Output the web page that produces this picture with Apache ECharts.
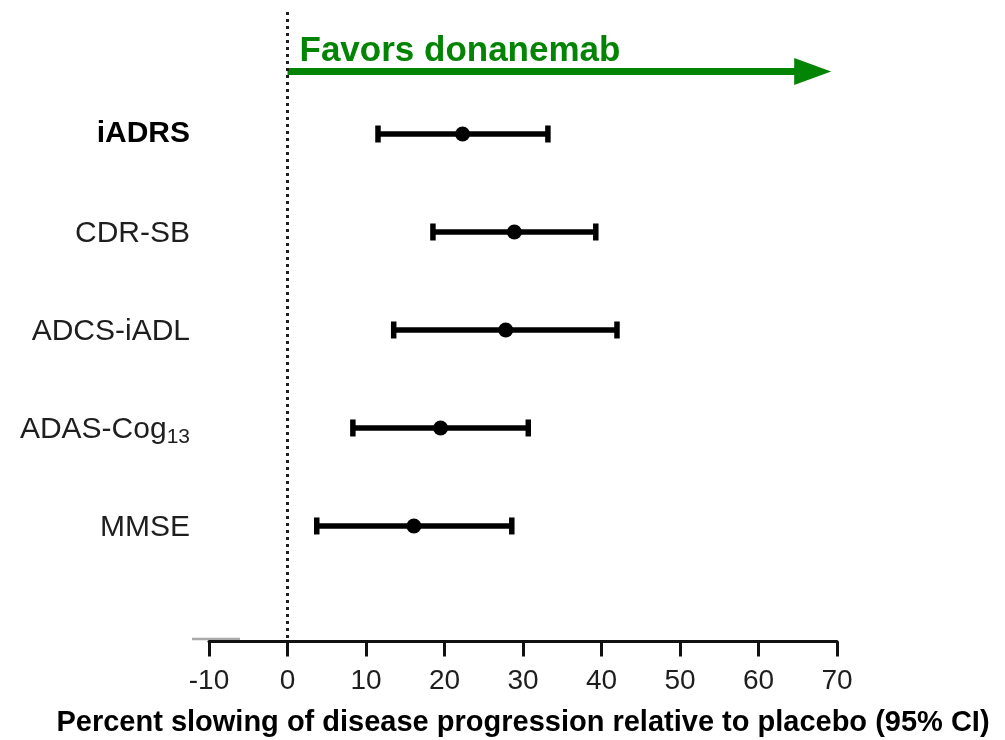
<!DOCTYPE html>
<html>
<head>
<meta charset="utf-8">
<script src="https://cdn.jsdelivr.net/npm/echarts@6/dist/echarts.min.js"></script>
<style>
  html, body { margin: 0; padding: 0; background: #fff; }
  #chart { width: 1005px; height: 740px; }
</style>
</head>
<body>
<div id="chart"></div>
<script>
// Outcome measures, top to bottom
const outcomes = ['iADRS', 'CDR-SB', 'ADCS-iADL', 'ADAS-Cog13', 'MMSE'];
const primaryOutcome = 'iADRS';
// Percent slowing of progression (point estimate) and 95% CI
const slowing = [22.3, 28.9, 27.8, 19.5, 16.1];
const ciLower = [11.4, 18.4, 13.4, 8.2, 3.6];
const ciUpper = [33.3, 39.4, 42.1, 30.8, 28.7];
// X axis ticks
const xMin = -10, xMax = 70, xStep = 10;

const FONT = '"Liberation Sans", Arial, sans-serif';
const GREEN = '#048404';
const INK = '#1e1e1e';

const chart = echarts.init(document.getElementById('chart'));

const pointData = slowing.map((v, i) => [v, i]);
const ciData = ciLower.map((lo, i) => [lo, ciUpper[i], i]);

function labelFor(name) {
  if (name === primaryOutcome) return '{b|' + name + '}';
  const m = name.match(/^(ADAS-Cog)(\d+)$/);
  if (m) return '{n|' + m[1] + '}{s|' + m[2] + '}';
  return '{n|' + name + '}';
}

chart.setOption({
  animation: false,
  backgroundColor: '#fff',
  grid: {
    left: 209, right: 168, top: 12, bottom: 98.5,
    containLabel: false,
    outerBoundsMode: 'none'
  },
  xAxis: {
    type: 'value',
    min: xMin, max: xMax, interval: xStep,
    name: 'Percent slowing of disease progression relative to placebo (95% CI)',
    nameLocation: 'middle',
    nameGap: 67,
    nameTextStyle: { fontFamily: FONT, fontSize: 29, fontWeight: 'bold', color: '#000' },
    axisLine: { show: true, onZero: false, lineStyle: { color: '#111', width: 3 } },
    axisTick: { show: true, length: 15, lineStyle: { color: '#111', width: 3 } },
    axisLabel: { fontFamily: FONT, fontSize: 28, color: INK, margin: 26 },
    splitLine: { show: false }
  },
  yAxis: {
    type: 'value',
    inverse: true,
    min: -1.245, max: 5.179,
    axisLine: { show: false },
    axisTick: { show: false },
    splitLine: { show: false },
    axisLabel: {
      show: true,
      customValues: outcomes.map((_, i) => i),
      margin: 19,
      formatter: v => labelFor(outcomes[Math.round(v)] || ''),
      rich: {
        n: { fontFamily: FONT, fontSize: 30, color: INK, padding: [4, 0, 0, 0] },
        b: { fontFamily: FONT, fontSize: 30, color: '#000', fontWeight: 'bold' },
        s: { fontFamily: FONT, fontSize: 21, color: INK, padding: [18, 0, 0, 0] }
      }
    }
  },
  graphic: [{
    type: 'line',
    shape: { x1: 192, y1: 639, x2: 240, y2: 639 },
    style: { stroke: '#aaaaaa', lineWidth: 2.5 },
    z: 0
  }],
  series: [
    {
      // 95% confidence interval whiskers with end caps
      type: 'custom',
      data: ciData,
      encode: { x: [0, 1], y: 2 },
      renderItem: (params, api) => {
        const a = api.coord([api.value(0), api.value(2)]);
        const b = api.coord([api.value(1), api.value(2)]);
        const cap = 8.5;
        const st = { stroke: '#000', lineWidth: 5.5 };
        return {
          type: 'group',
          children: [
            { type: 'line', shape: { x1: a[0], y1: a[1], x2: b[0], y2: b[1] }, style: st },
            { type: 'line', shape: { x1: a[0] + 1, y1: a[1] - cap, x2: a[0] + 1, y2: a[1] + cap }, style: st },
            { type: 'line', shape: { x1: b[0] - 1, y1: b[1] - cap, x2: b[0] - 1, y2: b[1] + cap }, style: st }
          ]
        };
      },
      markLine: {
        silent: true,
        symbol: ['none', 'none'],
        data: [[
          { coord: [0, -0.638], symbol: 'none' },
          { coord: [66.9, -0.638], symbol: 'triangle', symbolSize: [27, 37] }
        ]],
        lineStyle: { color: GREEN, width: 7, type: 'solid' },
        label: {
          show: true,
          position: 'insideStartTop',
          formatter: 'Favors donanemab',
          fontFamily: FONT, fontSize: 35, fontWeight: 'bold', color: GREEN,
          distance: [12, 3]
        },
        itemStyle: { color: GREEN }
      }
    },
    {
      // point estimates
      type: 'scatter',
      data: pointData,
      symbol: 'circle',
      symbolSize: 15,
      itemStyle: { color: '#000', opacity: 1 },
      z: 5,
      markLine: {
        silent: true,
        symbol: ['none', 'none'],
        data: [{ xAxis: 0 }],
        lineStyle: { color: INK, width: 3, type: [3, 4] },
        label: { show: false }
      }
    }
  ]
});
</script>
</body>
</html>
